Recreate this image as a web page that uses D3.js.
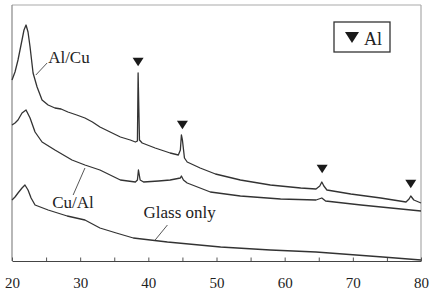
<!DOCTYPE html>
<html>
<head>
<meta charset="utf-8">
<script src="https://cdn.jsdelivr.net/npm/d3@7"></script>
<style>
  body { margin: 0; background: #fff; }
  svg { display: block; font-family: "Liberation Serif", "DejaVu Serif", serif; }
  .curve { fill: none; stroke: #333; stroke-width: 1.3; stroke-linejoin: round; }
  .lead { stroke: #444; stroke-width: 0.9; }
  .label { font-size: 17px; fill: #222; }
</style>
</head>
<body>
<svg id="chart" width="435" height="294"></svg>
<script>
// XRD patterns, 2-theta (deg) vs intensity (a.u.)
const alCu = [
  [20, 181], [20.44, 189], [20.88, 201], [21.47, 221], [21.76, 231], [22.06, 236],
  [22.35, 229], [22.65, 214], [23.09, 188], [23.68, 174], [24.41, 161], [25.3, 156],
  [26.3, 153], [27.2, 152], [28.2, 149], [29.5, 146], [30.7, 143], [31.8, 139],
  [32.9, 134], [34.4, 129], [35.9, 124], [37.35, 121], [38.1, 119], [38.4, 120],
  [38.5, 188], [38.7, 121], [39.1, 118], [41.0, 113], [43.2, 108], [44.4, 106],
  [44.7, 111], [44.85, 126], [45.0, 121], [45.3, 103], [45.7, 99], [47.6, 93],
  [49.85, 87], [53.5, 81], [57.9, 76], [62.35, 73], [64.6, 72], [65.15, 75],
  [65.45, 79], [65.75, 75], [66.2, 71], [69.7, 67], [74.1, 63], [77.8, 59],
  [78.25, 62], [78.5, 65], [78.95, 61], [80, 58]
];
const cuAl = [
  [20, 136], [20.44, 138], [20.88, 141], [21.47, 148], [22.06, 151], [22.65, 143],
  [23.38, 129], [24.41, 119], [26.3, 111], [28.8, 101], [30.7, 96], [32.9, 91],
  [35.9, 81], [38.1, 79], [38.4, 81], [38.55, 91], [38.8, 81], [39.3, 79],
  [41.5, 80], [43.2, 81], [44.7, 83], [44.85, 85], [45.15, 81], [45.7, 78],
  [49.1, 69], [53.5, 65], [59.4, 62], [64.6, 61], [65.45, 63], [66.0, 60],
  [71.2, 56], [75.6, 53], [80, 50]
];
const glass = [
  [20, 61], [20.44, 64], [20.88, 68], [21.47, 73], [21.9, 76], [22.35, 71],
  [22.8, 63], [23.38, 56], [25.3, 51], [28.1, 45], [30.7, 41], [32.9, 33],
  [35.3, 28], [37.8, 23], [42.8, 19], [50.6, 14], [57.9, 11], [64.6, 9],
  [74.4, 4], [80, 1]
];

// Al reflections: [2-theta, marker height]
const alPeaks = [[38.5, 199], [45, 136], [65.5, 92], [78.5, 77]];

// curve labels: text, anchor point, leader line from curve to text
const curveLabels = [
  { text: "Al/Cu", at: [25.3, 198], line: [[23.5, 186], [25.15, 198]] },
  { text: "Cu/Al", at: [25.9, 53], line: [[30.7, 93], [28.97, 66]] },
  { text: "Glass only", at: [39.3, 43], line: [[41.0, 21], [42.8, 36]] }
];

const xTicks = [20, 25, 30, 35, 40, 45, 50, 55, 60, 65, 70, 75, 80];

const svg = d3.select("#chart");
const m = { left: 12, right: 421, top: 5, bottom: 261 };

const x = d3.scaleLinear().domain([20, 80]).range([m.left, m.right]);
const y = d3.scaleLinear().domain([0, 256]).range([m.bottom, m.top]);

// frame
svg.append("line").attr("x1", m.left).attr("x2", m.right).attr("y1", m.top).attr("y2", m.top)
  .attr("stroke", "#aaa").attr("stroke-width", 1.2);
svg.append("line").attr("x1", m.right).attr("x2", m.right).attr("y1", m.top).attr("y2", m.bottom)
  .attr("stroke", "#aaa").attr("stroke-width", 1.2);
svg.append("line").attr("x1", m.left).attr("x2", m.left).attr("y1", m.top).attr("y2", m.bottom)
  .attr("stroke", "#888").attr("stroke-width", 1.2);

// bottom axis, ticks pointing inwards
const axis = svg.append("g")
  .attr("transform", `translate(0,${m.bottom})`)
  .call(d3.axisBottom(x).tickValues(xTicks).tickSizeInner(-3.5).tickSizeOuter(0)
    .tickPadding(16).tickFormat(d => d % 10 === 0 ? d : ""));
axis.select(".domain").attr("stroke", "#444").attr("stroke-width", 1.2);
axis.selectAll(".tick line").attr("stroke", "#555");
axis.selectAll(".tick text")
  .attr("font-family", "Liberation Serif, serif")
  .attr("font-size", 15).attr("fill", "#222");

const line = d3.line().x(d => x(d[0])).y(d => y(d[1]));

[alCu, cuAl, glass].forEach(s => {
  svg.append("path").datum(s).attr("class", "curve").attr("d", line);
});

// peak markers
const tri = (w, h) => `M${-w / 2},${-h / 2}L${w / 2},${-h / 2}L0,${h / 2}Z`;
svg.selectAll(".peak").data(alPeaks).enter().append("path")
  .attr("class", "peak")
  .attr("transform", d => `translate(${x(d[0])},${y(d[1])})`)
  .attr("d", tri(11, 8.5))
  .attr("fill", "#1a1a1a");

// curve labels with leader lines
curveLabels.forEach(l => {
  svg.append("line").attr("class", "lead")
    .attr("x1", x(l.line[0][0])).attr("y1", y(l.line[0][1]))
    .attr("x2", x(l.line[1][0])).attr("y2", y(l.line[1][1]));
  svg.append("text").attr("class", "label")
    .attr("x", x(l.at[0])).attr("y", y(l.at[1]))
    .text(l.text);
});

// legend
const lg = svg.append("g").attr("transform", "translate(334,22)");
lg.append("rect").attr("width", 56).attr("height", 30)
  .attr("fill", "#fff").attr("stroke", "#333").attr("stroke-width", 1.3);
lg.append("path").attr("transform", "translate(18,15.5)").attr("d", tri(14, 11)).attr("fill", "#1a1a1a");
lg.append("text").attr("x", 30).attr("y", 23).attr("font-size", 18).attr("fill", "#222").text("Al");
</script>
</body>
</html>
